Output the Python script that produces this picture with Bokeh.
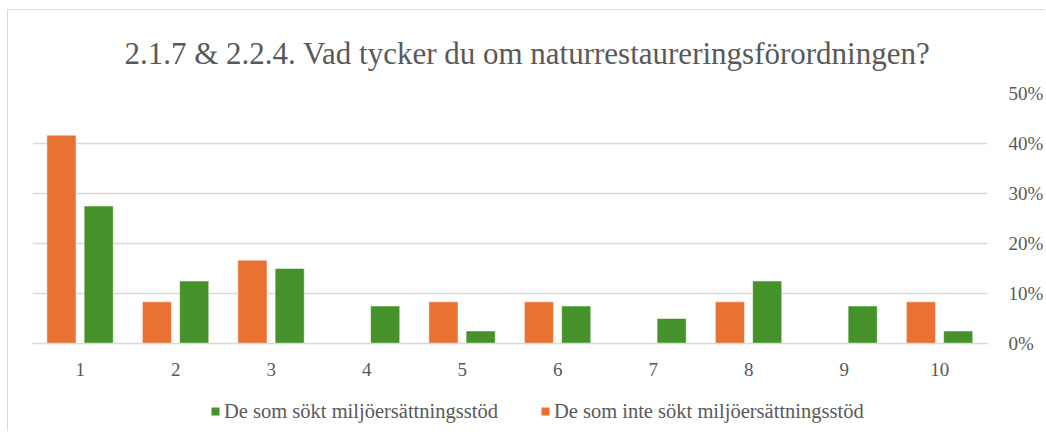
from bokeh.plotting import figure
from bokeh.layouts import column
from bokeh.models import ColumnDataSource, FactorRange, NumeralTickFormatter, FixedTicker, Legend, LegendItem, Range1d
from bokeh.transform import dodge
from bokeh.embed import file_html
from bokeh.resources import INLINE

categories = ["1", "2", "3", "4", "5", "6", "7", "8", "9", "10"]
sokt = [0.275, 0.125, 0.15, 0.075, 0.025, 0.075, 0.05, 0.125, 0.075, 0.025]
inte_sokt = [0.4167, 0.0833, 0.1667, 0.0, 0.0833, 0.0833, 0.0, 0.0833, 0.0, 0.0833]
y_ticks = [0, 0.1, 0.2, 0.3, 0.4, 0.5]
title_text = "2.1.7 & 2.2.4. Vad tycker du om naturrestaureringsförordningen?"
label_sokt = "De som sökt miljöersättningsstöd"
label_inte = "De som inte sökt miljöersättningsstöd"

FONT = "Liberation Serif"
TXT = "#595959"
GRID = "#d9d9d9"
GREEN = "#46922A"
ORANGE = "#E97132"

src = ColumnDataSource(dict(cat=categories, sokt=sokt, inte=inte_sokt))

p = figure(x_range=FactorRange(*categories, range_padding=0), y_range=Range1d(0, 0.5),
           width=1038, height=380, output_backend="svg", toolbar_location=None,
           y_axis_location="right", min_border_left=24, min_border_right=58,
           min_border_top=81, min_border_bottom=47)
p.outline_line_color = None

p.title.text = title_text
p.title.text_font = FONT
p.title.text_font_size = "31px"
p.title.text_font_style = "normal"
p.title.text_color = TXT
p.title.align = "left"
p.title.offset = 92
p.title.standoff = 46

r_inte = p.vbar(x=dodge("cat", -0.197, range=p.x_range), top="inte", width=0.305, source=src,
                fill_color=ORANGE, line_color="#ffffff", line_alpha=0.5)
r_sokt = p.vbar(x=dodge("cat", 0.193, range=p.x_range), top="sokt", width=0.305, source=src,
                fill_color=GREEN, line_color="#ffffff", line_alpha=0.5)

p.xgrid.grid_line_color = None
p.ygrid.grid_line_color = GRID
p.ygrid.grid_line_width = 1.5
p.yaxis.ticker = FixedTicker(ticks=y_ticks)
p.yaxis.formatter = NumeralTickFormatter(format="0%")
for ax in (p.xaxis, p.yaxis):
    ax.major_label_text_font = FONT
    ax.major_label_text_font_size = "19px"
    ax.major_label_text_color = TXT
    ax.major_tick_line_color = None
    ax.minor_tick_line_color = None
p.yaxis.axis_line_color = None
p.yaxis.major_label_standoff = 15
p.xaxis.axis_line_color = GRID
p.xaxis.axis_line_width = 1.5
p.xaxis.major_label_standoff = 13

# legend strip below the chart
p2 = figure(width=1038, height=42, output_backend="svg", toolbar_location=None,
            x_range=Range1d(0, 1), y_range=Range1d(0, 1),
            x_axis_location=None, y_axis_location=None,
            min_border=0, min_border_left=0, min_border_right=0, min_border_top=0, min_border_bottom=0)
p2.grid.visible = False
p2.outline_line_color = None
g_sokt = p2.vbar(x=[-10], top=[0], width=0.1, fill_color=GREEN, line_color=None)
g_inte = p2.vbar(x=[-10], top=[0], width=0.1, fill_color=ORANGE, line_color=None)

legend = Legend(items=[LegendItem(label=label_sokt, renderers=[g_sokt]),
                       LegendItem(label=label_inte, renderers=[g_inte])],
                orientation="horizontal", location=(178, 9))
legend.label_text_font = FONT
legend.label_text_font_size = "20.5px"
legend.label_text_color = TXT
legend.glyph_width = 10
legend.glyph_height = 10
legend.label_standoff = 4
legend.spacing = 42
legend.padding = 0
legend.margin = 0
legend.label_height = 24
legend.border_line_color = None
legend.background_fill_alpha = 0
p2.add_layout(legend, "center")

layout = column(p, p2, spacing=0, margin=(10, 0, 0, 8),
                styles={"box-shadow": "-1px -1px 0 0 #d9d9d9"})

open("out.html", "w").write(file_html(layout, INLINE))
